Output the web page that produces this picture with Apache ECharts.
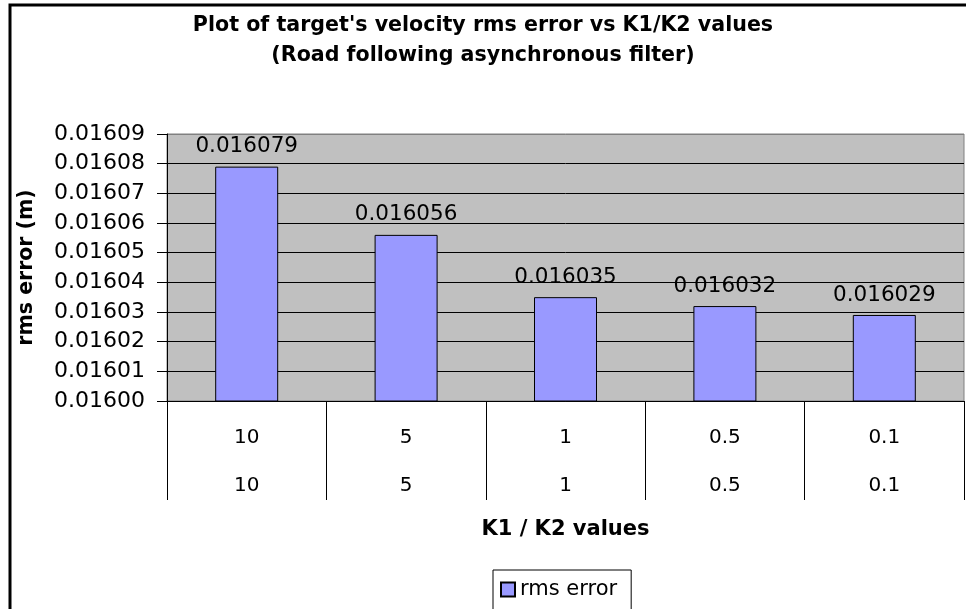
<!DOCTYPE html>
<html>
<head>
<meta charset="utf-8">
<script src="https://cdn.jsdelivr.net/npm/echarts@6/dist/echarts.min.js"></script>
<style>
  html, body { margin: 0; padding: 0; background: #fff; }
  #chart { width: 966px; height: 609px; }
</style>
</head>
<body>
<div id="chart"></div>
<script>
// K1 and K2 values (two-level category axis)
const k1Values = ['10', '5', '1', '0.5', '0.1'];
const k2Values = ['10', '5', '1', '0.5', '0.1'];
// rms error per K1/K2 setting
const rmsError = [0.016079, 0.016056, 0.016035, 0.016032, 0.016029];
const yMin = 0.016;
const yMax = 0.01609;
const yStep = 0.00001;

const categories = k1Values.map((k1, i) => k1 + '\n' + k2Values[i]);
const font = 'DejaVu Sans';

const myChart = echarts.init(document.getElementById('chart'));

let option = {
  animation: false,
  backgroundColor: '#fff',
  title: {
    text: "Plot of target's velocity rms error vs K1/K2 values\n(Road following asynchronous filter)",
    left: 'center',
    top: 6,
    textStyle: {
      fontFamily: font,
      fontSize: 20.6,
      fontWeight: 'bold',
      color: '#000',
      lineHeight: 30
    }
  },
  legend: {
    data: ['rms error'],
    left: 493,
    top: 570,
    orient: 'horizontal',
    icon: 'rect',
    itemWidth: 14,
    itemHeight: 14,
    itemGap: 5,
    borderColor: '#000',
    borderWidth: 1,
    padding: [9, 14, 20, 7],
    textStyle: { fontFamily: font, fontSize: 21, color: '#000' }
  },
  grid: {
    left: 167,
    right: 2,
    top: 134,
    bottom: 208,
    show: true,
    backgroundColor: '#c0c0c0',
    borderColor: '#808080',
    borderWidth: 1
  },
  xAxis: {
    type: 'category',
    data: categories,
    name: 'K1 / K2 values',
    nameLocation: 'middle',
    nameGap: 118,
    nameTextStyle: { fontFamily: font, fontSize: 21, fontWeight: 'bold', color: '#000' },
    axisLine: { lineStyle: { color: '#000', width: 1 } },
    axisTick: { show: true, length: 99, lineStyle: { color: '#000' } },
    axisLabel: {
      fontFamily: font,
      fontSize: 20,
      color: '#000',
      lineHeight: 48,
      margin: 13
    }
  },
  yAxis: {
    type: 'value',
    min: yMin,
    max: yMax,
    interval: yStep,
    name: 'rms error (m)',
    nameLocation: 'middle',
    nameGap: 130,
    nameTextStyle: { fontFamily: font, fontSize: 20.5, fontWeight: 'bold', color: '#000' },
    axisLine: { show: true, lineStyle: { color: '#000' } },
    axisTick: { show: true, length: 10, lineStyle: { color: '#000' } },
    axisLabel: {
      fontFamily: font,
      fontSize: 22,
      color: '#000',
      margin: 22,
      formatter: v => v.toFixed(5)
    },
    splitLine: {
      show: true,
      lineStyle: {
        color: ['#000', '#000', '#000', '#000', '#000', '#000', '#000', '#000', '#000', '#808080'],
        width: 1
      }
    }
  },
  series: [
    {
      name: 'rms error',
      type: 'bar',
      data: rmsError,
      barWidth: 63,
      itemStyle: { color: '#9999ff', borderColor: '#000', borderWidth: 1 },
      label: {
        show: true,
        position: 'top',
        distance: 9,
        fontFamily: font,
        fontSize: 21.5,
        color: '#000',
        formatter: p => p.value.toFixed(6)
      }
    }
  ],
  graphic: [
    {
      type: 'rect',
      shape: { x: 10, y: 5, width: 1000, height: 700 },
      style: { fill: 'none', stroke: '#000', lineWidth: 3 },
      silent: true
    }
  ]
};
myChart.setOption(option);
</script>
</body>
</html>
